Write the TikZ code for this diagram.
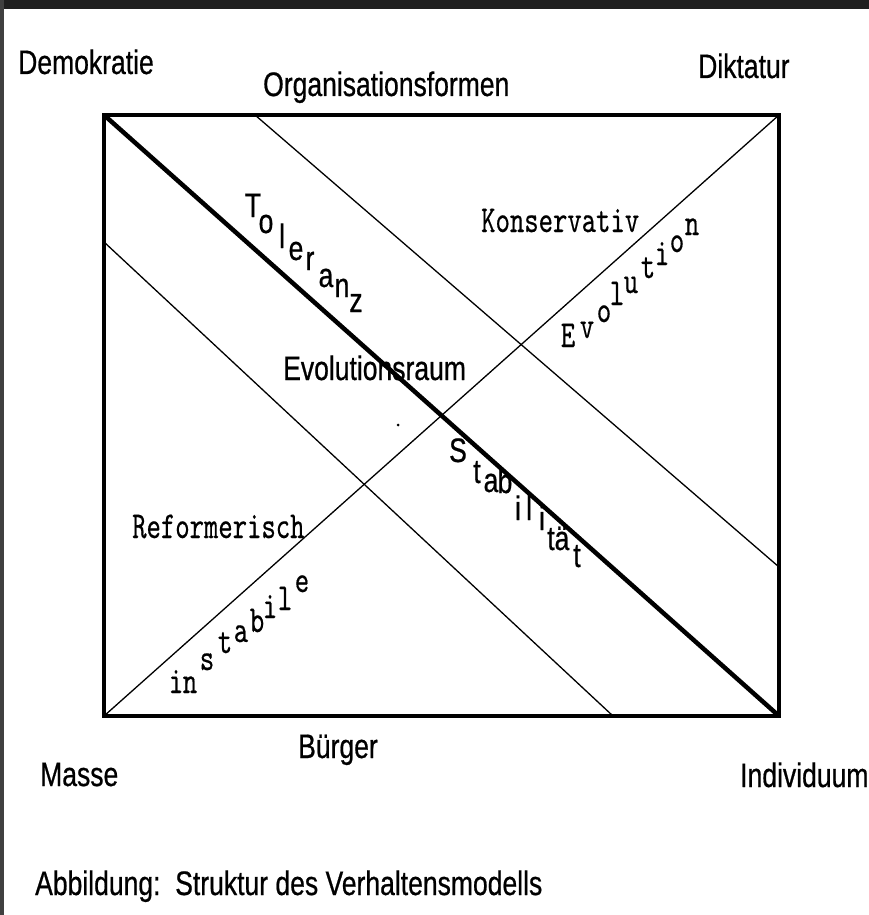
\documentclass[tikz,border=0pt]{standalone}
\usepackage{fontspec}
\setmainfont[FakeStretch=0.78, FakeBold=0.6]{Liberation Sans}
\newfontfamily\typewriter[FakeStretch=0.72, FakeBold=0.4]{lmmono10-regular.otf}

\begin{document}
\begin{tikzpicture}[x=1pt, y=-1pt,
    thinline/.style={line width=1.3pt},
    thickline/.style={line width=4.5pt},
    sanslabel/.style={inner sep=0pt, anchor=base west, font=\fontsize{34}{34}\selectfont},
    monolabel/.style={inner sep=0pt, anchor=base west, font=\typewriter\fontsize{38}{38}\selectfont},
    sansletter/.style={inner sep=0pt, anchor=base, font=\fontsize{34}{34}\selectfont},
    monoletter/.style={inner sep=0pt, anchor=base, font=\typewriter\fontsize{38}{38}\selectfont}]
    \useasboundingbox (0, 0) rectangle (869, 915);
    % Screen border:
    \fill[black!88] (0, 0) rectangle (869, 9);
    \fill[black!75] (0, 0) rectangle (4, 915);
    % Corners and edge points:
    \coordinate (nw) at (104, 115);
    \coordinate (ne) at (779, 115);
    \coordinate (sw) at (104, 716);
    \coordinate (se) at (779, 716);
    \coordinate (toptick) at (255, 115);
    \coordinate (righttick) at (779, 567);
    \coordinate (lefttick) at (104, 242);
    \coordinate (bottomtick) at (613, 716);
    % Lines:
    \draw[thinline] (toptick) -- (righttick);
    \draw[thinline] (lefttick) -- (bottomtick);
    \draw[thinline] (sw) -- (ne);
    \draw[thickline] (nw) -- (se);
    \draw[thickline] (nw) rectangle (se);
    % Corner and edge labels:
    \node[sanslabel] (demokratie) at (18, 74) {Demokratie};
    \node[sanslabel] (organisation) at (263, 96) {Organisationsformen};
    \node[sanslabel] (diktatur) at (698, 78) {Diktatur};
    \node[sanslabel] (buerger) at (298, 758) {Bürger};
    \node[sanslabel] (masse) at (40, 786) {Masse};
    \node[sanslabel] (individuum) at (740, 787) {Individuum};
    \node[sanslabel] (raum) at (283, 380) {Evolutionsraum};
    \node[sanslabel] (caption) at (35, 895) {Abbildung:\ \ Struktur des Verhaltensmodells};
    \node[monolabel] (konservativ) at (481, 232) {Konservativ};
    \node[monolabel] (reformerisch) at (132, 538) {Reformerisch};
    \fill (398, 425) circle (1.5);
    % Staggered words:
    \foreach \ch/\x/\y [count=\i] in {T/253/217, o/266/233, l/282/248, e/296/260,
        r/310/270, a/326/287, n/342/297, z/356/312}
        \node[sansletter] (tol\i) at (\x, \y) {\ch};
    \foreach \ch/\x/\y [count=\i] in {S/458/462, t/477/483, a/491/492, b/505/493,
        i/518/520, l/529/520, i/542/530, t/551/550, ä/562/550, t/577/567}
        \node[sansletter] (stab\i) at (\x, \y) {\ch};
    \foreach \ch/\x/\y [count=\i] in {E/568/347, v/587/338, o/604/322, l/617/305,
        u/631/293, t/648/278, i/662/265, o/677/252, n/692/235}
        \node[monoletter] (evo\i) at (\x, \y) {\ch};
    \foreach \ch/\x/\y [count=\i] in {i/176/693, n/190/693, s/207/670, t/225/653,
        a/241/642, b/257/632, i/270/618, l/285/610, e/302/592}
        \node[monoletter] (inst\i) at (\x, \y) {\ch};
\end{tikzpicture}
\end{document}
